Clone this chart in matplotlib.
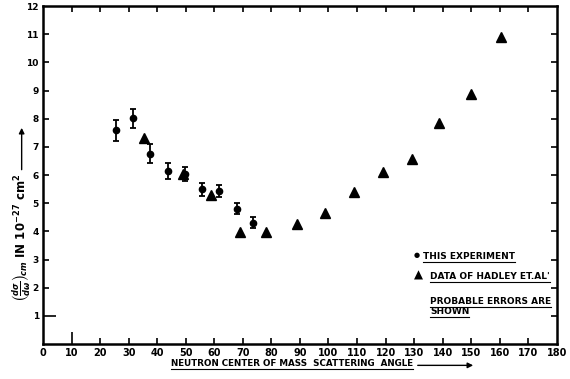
import matplotlib
matplotlib.use("Agg")
import matplotlib.pyplot as plt
from matplotlib.lines import Line2D
from matplotlib.patches import FancyArrowPatch

# this experiment (with probable errors)
exp_angle = [25.5, 31.4, 37.6, 43.7, 49.6, 55.6, 61.8, 67.8, 73.7]
exp_xsec = [7.59, 8.02, 6.76, 6.15, 6.03, 5.49, 5.43, 4.81, 4.31]
exp_err = [0.37, 0.34, 0.33, 0.28, 0.24, 0.22, 0.21, 0.20, 0.19]

# data of Hadley et al
had_angle = [35.5, 48.9, 58.7, 69.0, 78.1, 88.9, 98.8, 109.0, 119.2, 129.1, 138.8, 150.0, 160.4]
had_xsec = [7.33, 6.03, 5.28, 3.98, 3.96, 4.26, 4.66, 5.40, 6.11, 6.58, 7.84, 8.87, 10.9]

xticks = list(range(0, 190, 10))
yticks = list(range(1, 13))

plt.rcParams['font.family'] = 'DejaVu Sans'
plt.rcParams['font.weight'] = 'bold'

fig = plt.figure(figsize=(5.7, 3.79), dpi=100)
ax = fig.add_axes([0.0754, 0.0923, 0.9016, 0.8917])

ax.errorbar(exp_angle, exp_xsec, yerr=exp_err, fmt='o', color='black',
            markersize=4.5, elinewidth=1.3, capsize=2.2, capthick=1.3)
ax.plot(had_angle, had_xsec, '^', color='black', markersize=7)

ax.set_xlim(0, 180)
ax.set_ylim(0, 12)
ax.set_xticks(xticks)
ax.set_xticklabels([str(t) for t in xticks], fontsize=7, fontweight='bold')
ax.set_yticks(yticks)
ax.set_yticklabels([str(t) for t in yticks], fontsize=6.5, fontweight='bold')
ax.tick_params(direction='in', length=4, width=1.2, pad=3,
               top=True, right=True)
for s in ax.spines.values():
    s.set_linewidth(1.8)

# longer ticks at x=10 and y=1 as in the original
ax.xaxis.get_major_ticks()[1].tick1line.set_markersize(9)
ax.yaxis.get_major_ticks()[0].tick1line.set_markersize(9)
for tk in (ax.xaxis.get_major_ticks()[0], ax.xaxis.get_major_ticks()[-1],
           ax.yaxis.get_major_ticks()[-1]):
    tk.tick1line.set_visible(False)
    tk.tick2line.set_visible(False)

# legend notes
notes = []
kw = dict(transform=ax.transAxes, fontsize=6.5, fontweight='bold', va='center')
notes.append(ax.text(0.739, 0.260, "THIS EXPERIMENT", **kw))
ax.text(0.727, 0.262, u"\u25cf", transform=ax.transAxes, fontsize=5,
        ha='center', va='center')
notes.append(ax.text(0.753, 0.201, "DATA OF HADLEY ET.AL'", **kw))
ax.text(0.731, 0.204, u"\u25b2", transform=ax.transAxes, fontsize=8.5,
        ha='center', va='center')
notes.append(ax.text(0.753, 0.127, "PROBABLE ERRORS ARE", **kw))
notes.append(ax.text(0.753, 0.097, "SHOWN", **kw))

xl = fig.text(0.300, 0.040, "NEUTRON CENTER OF MASS  SCATTERING  ANGLE",
              fontsize=6.3, fontweight='bold', va='center')
notes.append(xl)
fig.text(0.036, 0.375,
         r"$\left(\frac{d\sigma}{d\omega}\right)_{cm}$ IN $10^{-27}$ cm$^2$",
         rotation=90, fontsize=8.5, fontweight='bold', ha='center', va='center')

# arrows
fig.add_artist(FancyArrowPatch(
    (0.728, 0.036), (0.835, 0.036), transform=fig.transFigure,
    arrowstyle='-|>', mutation_scale=8, lw=1, color='black'))
fig.add_artist(FancyArrowPatch(
    (0.038, 0.545), (0.038, 0.67), transform=fig.transFigure,
    arrowstyle='-|>', mutation_scale=8, lw=1, color='black'))

# underline text
fig.canvas.draw()
r = fig.canvas.get_renderer()
for t in notes:
    bb = t.get_window_extent(r).transformed(fig.transFigure.inverted())
    fig.add_artist(Line2D([bb.x0, bb.x1], [bb.y0 - 0.003, bb.y0 - 0.003],
                          transform=fig.transFigure, color='black', lw=0.8))

fig.savefig("out.png", dpi=100)
